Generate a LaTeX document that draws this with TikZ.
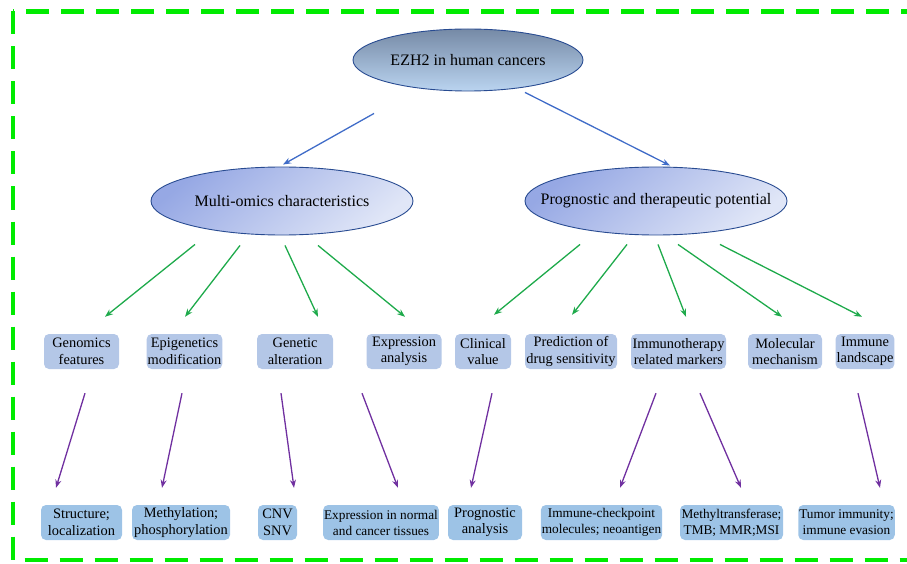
\documentclass[tikz,border=0pt]{standalone}
\usepackage{fontspec}
\setmainfont{Liberation Serif}
\usetikzlibrary{shapes.geometric, arrows.meta, calc}
\definecolor{ezhedge}{RGB}{40,75,145}
\definecolor{ezhtop}{RGB}{118,138,166}
\definecolor{ezhbottom}{RGB}{186,212,240}
\definecolor{omicdark}{RGB}{150,168,228}
\definecolor{omiclight}{RGB}{224,230,247}
\definecolor{featfill}{RGB}{180,199,231}
\definecolor{detailfill}{RGB}{157,195,230}
\definecolor{arrowblue}{RGB}{64,108,200}
\definecolor{arrowgreen}{RGB}{30,170,75}
\definecolor{arrowpurple}{RGB}{112,48,160}
\definecolor{framegreen}{RGB}{0,235,0}

\begin{document}
\begin{tikzpicture}[x=1pt, y=-1pt,
  topic/.style={ellipse, draw=ezhedge, line width=0.9pt, inner sep=0pt, font=\fontsize{16}{19}\selectfont},
  omics/.style={topic, minimum width=262, minimum height=68, top color=omicdark, bottom color=omiclight, shading angle=40},
  feat/.style={rectangle, rounded corners=5pt, fill=featfill, minimum height=35, inner xsep=1pt, inner ysep=0pt, align=center, font=\fontsize{14.4}{16.5}\selectfont},
  detail/.style={feat, fill=detailfill},
  smalltext/.style={font=\fontsize{13.3}{16}\selectfont},
  blink/.style={-{Stealth[length=8pt,width=6pt]}, arrowblue, line width=1.3pt},
  glink/.style={-{Stealth[length=8pt,width=6pt]}, arrowgreen, line width=1.3pt},
  plink/.style={-{Stealth[length=8pt,width=6pt]}, arrowpurple, line width=1.3pt},
  frame/.style={framegreen, line width=4.5pt, dash pattern=on 23pt off 12pt}
]
\useasboundingbox (0,0) rectangle (907,564);
\clip (0,0) rectangle (907,564);

% Outer frame
\draw[frame] (13,11.5) rectangle (935,560);

% Root and branches
\node[topic, minimum width=230, minimum height=62, top color=ezhtop, bottom color=ezhbottom] (ezh) at (468,60) {\makebox[0pt]{EZH2 in human cancers}};
\node[omics] (multi) at (282,201) {\makebox[0pt]{Multi-omics characteristics}};
\node[omics] (prog) at (656,201) {\makebox[0pt]{Prognostic and therapeutic potential}};

% First level
\node[feat, minimum width=75] (genomics) at (81.5,351.5) {Genomics\\features};
\node[feat, minimum width=75] (epi) at (184.5,351.5) {Epigenetics\\modification};
\node[feat, minimum width=76] (genetic) at (295,351.5) {Genetic\\alteration};
\node[feat, minimum width=75] (expr) at (404,351.5) {Expression\\analysis};
\node[feat, minimum width=56] (clinical) at (483,351.5) {Clinical\\value};
\node[feat, minimum width=92] (pred) at (571,351.5) {Prediction of\\drug sensitivity};
\node[feat, minimum width=95] (immuno) at (678.5,351.5) {Immunotherapy\\related markers};
\node[feat, minimum width=74] (molec) at (785,351.5) {Molecular\\mechanism};
\node[feat, minimum width=54] (landscape) at (865,351.5) {Immune\\landscape};

% Second level
\node[detail, minimum width=81] (struct) at (81.5,522.5) {Structure;\\localization};
\node[detail, minimum width=98] (methyl) at (181,522.5) {Methylation;\\phosphorylation};
\node[detail, minimum width=39] (cnv) at (277.5,522.5) {CNV\\SNV};
\node[detail, smalltext, minimum width=112] (tissue) at (381,522.5) {Expression in normal\\and cancer tissues};
\node[detail, minimum width=74] (progn) at (485,522.5) {Prognostic\\analysis};
\node[detail, smalltext, minimum width=119] (checkpoint) at (601.5,522.5) {Immune-checkpoint\\molecules; neoantigen};
\node[detail, smalltext, minimum width=103] (mtase) at (731.5,522.5) {Methyltransferase;\\TMB; MMR;MSI};
\node[detail, smalltext, minimum width=95] (tumor) at (846.5,522.5) {Tumor immunity;\\immune evasion};

% Root to branches
\draw[blink] ($(ezh.south)+(-94,22)$) -- ($(multi.north)+(1,-2)$);
\draw[blink] ($(ezh.south)+(57,1)$) -- ($(prog.north)+(14,-1)$);

% Multi-omics to first level
\draw[glink] ($(multi.south)+(-87,9)$) -- ($(genomics.north)+(23.5,-17)$);
\draw[glink] ($(multi.south)+(-42,10)$) -- ($(epi.north)+(0.5,-17)$);
\draw[glink] ($(multi.south)+(3,10)$) -- ($(genetic.north)+(23,-17)$);
\draw[glink] ($(multi.south)+(36,10)$) -- ($(expr.north)+(1,-17)$);

% Prognostic to first level
\draw[glink] ($(prog.south)+(-76,9)$) -- ($(clinical.north)+(11,-19)$);
\draw[glink] ($(prog.south)+(-29,9)$) -- ($(pred.north)+(1,-19)$);
\draw[glink] ($(prog.south)+(2,9)$) -- ($(immuno.north)+(7.5,-17)$);
\draw[glink] ($(prog.south)+(22,9)$) -- ($(molec.north)+(-3,-17)$);
\draw[glink] ($(prog.south)+(64,9)$) -- ($(landscape.north)+(-3,-17)$);

% First level to second level
\draw[plink] ($(genomics.south)+(3.5,24)$) -- ($(struct.north)+(-25.5,-17)$);
\draw[plink] ($(epi.south)+(-2.5,24)$) -- ($(methyl.north)+(-19,-17)$);
\draw[plink] ($(genetic.south)+(-14,24)$) -- ($(cnv.north)+(16.5,-17)$);
\draw[plink] ($(expr.south)+(-42,24)$) -- ($(tissue.north)+(17,-17)$);
\draw[plink] ($(clinical.south)+(9,24)$) -- ($(progn.north)+(-14,-17)$);
\draw[plink] ($(immuno.south)+(-22.5,24)$) -- ($(checkpoint.north)+(18.5,-17)$);
\draw[plink] ($(immuno.south)+(21.5,24)$) -- ($(mtase.north)+(9.5,-17)$);
\draw[plink] ($(landscape.south)+(-7,24)$) -- ($(tumor.north)+(33.5,-17)$);

\end{tikzpicture}
\end{document}
